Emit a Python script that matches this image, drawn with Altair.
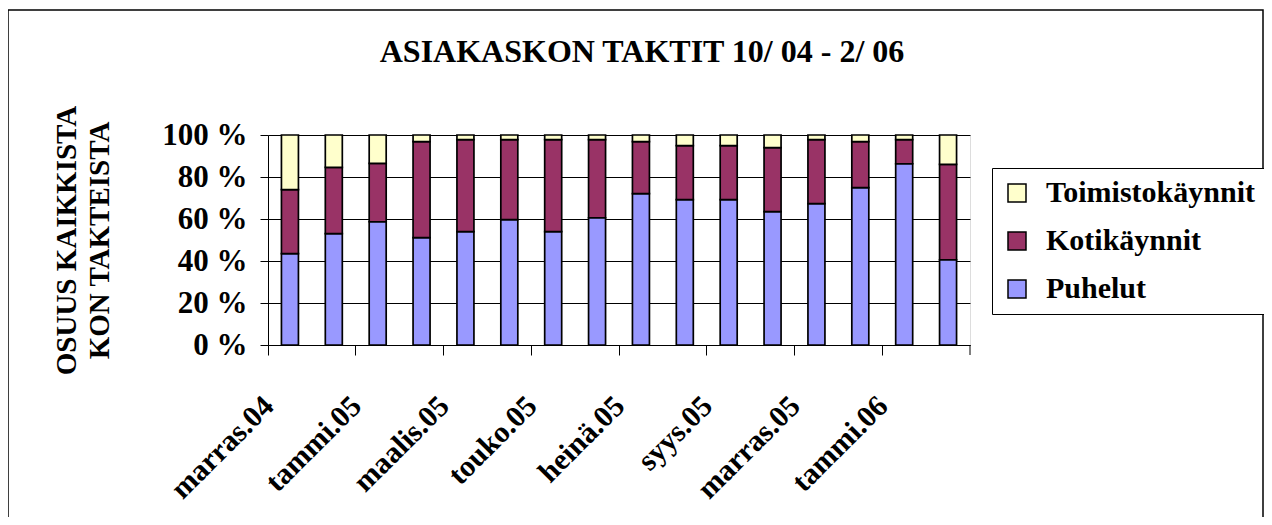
import altair as alt
import pandas as pd

months = ["marras.04", "joulu.04", "tammi.05", "helmi.05", "maalis.05", "huhti.05",
          "touko.05", "kesä.05", "heinä.05", "elo.05", "syys.05", "loka.05",
          "marras.05", "joulu.05", "tammi.06", "helmi.06"]

puhelut = [43.5, 53.0, 58.7, 51.1, 54.0, 59.7, 54.0, 60.6, 72.1, 69.2, 69.2, 63.5, 67.3, 74.9, 86.3, 40.6]
kotikaynnit = [30.5, 31.6, 27.8, 45.7, 43.8, 38.1, 43.8, 37.2, 24.7, 25.7, 25.7, 30.5, 30.5, 21.9, 11.5, 45.4]
toimistokaynnit = [26.0, 15.4, 13.5, 3.2, 2.2, 2.2, 2.2, 2.2, 3.2, 5.1, 5.1, 6.0, 2.2, 3.2, 2.2, 14.0]

series_names = ["Puhelut", "Kotikäynnit", "Toimistokäynnit"]
series_colors = ["#9999FF", "#993366", "#FFFFCC"]
title_text = "ASIAKASKON TAKTIT 10/ 04 - 2/ 06"
y_title = ["OSUUS KAIKKISTA", "KON TAKTEISTA"]

rows = []
for k, (name, vals) in enumerate(zip(series_names, [puhelut, kotikaynnit, toimistokaynnit])):
    for m, v in zip(months, vals):
        rows.append({"month": m, "series": name, "value": v, "ord": k})
df = pd.DataFrame(rows)

FONT = "Liberation Serif"
W, H = 702, 210
TOTAL_W, TOTAL_H = 1256, 509
PAD = {"left": 260, "top": 127, "right": TOTAL_W - 260 - W, "bottom": TOTAL_H - 127 - H}

bars = alt.Chart(df).mark_bar(size=17, stroke="black", strokeWidth=1.7).encode(
    x=alt.X("month:N", sort=months,
            scale=alt.Scale(paddingInner=0, paddingOuter=0),
            axis=alt.Axis(values=months[0::2], bandPosition=0, title=None,
                          labelAngle=-45, labelAlign="right", labelBaseline="middle",
                          labelOffset=-21,
                          labelFont=FONT, labelFontSize=30, labelFontWeight="bold",
                          labelColor="black", labelPadding=46, tickSize=10,
                          tickColor="black", domainColor="black", grid=False)),
    y=alt.Y("value:Q", stack="normalize",
            axis=alt.Axis(values=[0, 0.2, 0.4, 0.6, 0.8, 1.0],
                          labelExpr="round(datum.value*100) + ' %'",
                          title=y_title, titleFont=FONT, titleFontSize=29,
                          titleFontWeight="bold", titleColor="black",
                          titleAngle=270, titleAlign="center", titleBaseline="top",
                          titleX=-216, titleY=H / 2, titleLineHeight=33,
                          labelFont=FONT, labelFontSize=31, labelFontWeight="bold",
                          labelColor="black", labelPadding=13, tickSize=8,
                          tickColor="black", domainColor="black",
                          grid=True, gridColor="black", gridWidth=1, gridOpacity=1)),
    color=alt.Color("series:N",
                    scale=alt.Scale(domain=series_names[::-1], range=series_colors[::-1]),
                    legend=alt.Legend(title=None, orient="none", legendX=724, legendY=33,
                                      labelFont=FONT, labelFontSize=30, labelFontWeight="bold",
                                      labelColor="black", labelLimit=400,
                                      symbolType="square", symbolSize=324,
                                      symbolStrokeColor="black", symbolStrokeWidth=1.5,
                                      symbolOpacity=1, strokeColor="black", fillColor="white",
                                      padding=10, rowPadding=18, labelOffset=14)),
    order=alt.Order("ord:Q", sort="ascending"),
)

end_tick = alt.Chart(pd.DataFrame({"e": [1]})).mark_rule(color="black", strokeWidth=1).encode(
    x=alt.value(W), y=alt.value(H), y2=alt.value(H + 10))

title = alt.Chart(pd.DataFrame({"t": [title_text]})).mark_text(
    font=FONT, fontSize=32, fontWeight="bold", color="black", align="center", baseline="middle"
).encode(x=alt.value(374), y=alt.value(-83), text="t:N")

border = alt.Chart(pd.DataFrame({"b": [1]})).mark_rect(
    fillOpacity=0, stroke="black", strokeWidth=1.5
).encode(x=alt.value(-260), x2=alt.value(W + PAD["right"] - 1), y=alt.value(-125), y2=alt.value(420))

chart = alt.layer(bars, end_tick, title, border).properties(
    width=W, height=H, padding=PAD, autosize=alt.AutoSizeParams(type="none")
).configure_view(fill="#C0C0C0", stroke="#808080").configure(background="white")

chart.save("out.html", embed_options={"renderer": "svg", "actions": False})
